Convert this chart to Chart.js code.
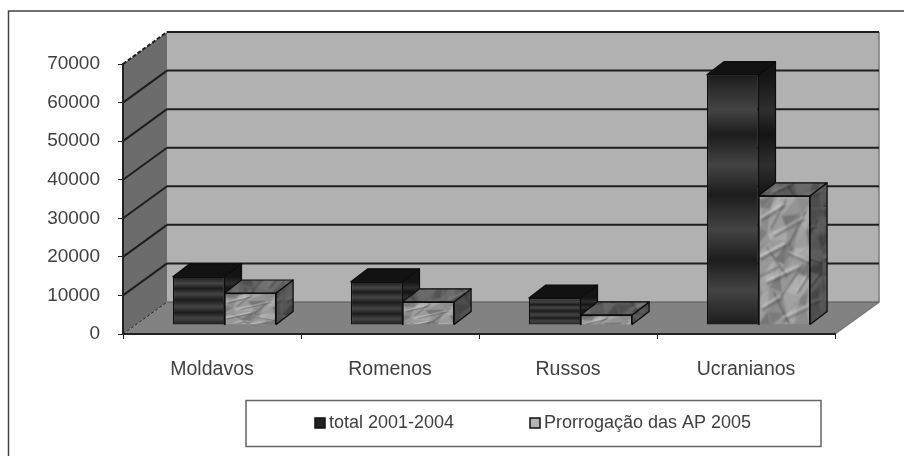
<!DOCTYPE html>
<html>
<head>
<meta charset="utf-8">
<style>
  body { margin: 0; background: #fff; }
  canvas { display: block; }
</style>
<script src="https://cdn.jsdelivr.net/npm/chart.js@4/dist/chart.umd.min.js"></script>
</head>
<body>
<canvas id="chart" width="904" height="456"></canvas>
<script>
// Chart values
const categories = ['Moldavos', 'Romenos', 'Russos', 'Ucranianos'];
const total = [12500, 11200, 7000, 64900];
const prorrogacao = [8300, 6000, 2600, 33500];
const yTicks = [0, 10000, 20000, 30000, 40000, 50000, 60000, 70000];

// Depth of the box around the plot, and of the bars standing inside it
const wallDepth = { x: 44, y: -32 };
const barInset = { x: 12.5, y: -9 };
const barDepth = { x: 17, y: -13 };

// Crumpled paper texture for the second series: shaded facets on a bent grid,
// then a few soft creases, all from fixed numbers
const facetShades = ['#a8a8a8', '#8c8c8c', '#9c9c9c', '#7c7c7c', '#b0b0b0', '#949494', '#a2a2a2', '#767676', '#989898'];
const creases = [
  [6, 40, 58, 14, 3], [34, 70, 104, 40, 2], [4, 112, 60, 88, 4], [70, 104, 116, 120, 2],
  [18, 158, 92, 130, 3], [88, 176, 112, 146, 2], [8, 206, 50, 186, 3], [56, 226, 114, 204, 2]
];
const folds = [
  [64, 8, 30, 60], [110, 30, 70, 92], [20, 96, 66, 150], [104, 128, 54, 186], [36, 180, 70, 236], [4, 150, 48, 132]
];
function paperTexture() {
  const c = document.createElement('canvas');
  c.width = 120;
  c.height = 240;
  const g = c.getContext('2d');
  g.filter = 'blur(2.2px)';
  g.fillStyle = '#9a9a9a';
  g.fillRect(0, 0, 120, 240);
  const step = 30;
  const vx = (i, j) => i * step + 9 * Math.sin(i * 2.1 + j * 1.3);
  const vy = (i, j) => j * step + 9 * Math.cos(i * 1.7 + j * 2.3);
  let n = 0;
  for (let j = -1; j < 9; j++) {
    for (let i = -1; i < 5; i++) {
      [[[i, j], [i + 1, j], [i, j + 1]], [[i + 1, j], [i + 1, j + 1], [i, j + 1]]].forEach(tri => {
        g.fillStyle = facetShades[(n * 5 + j + 9) % facetShades.length];
        n++;
        g.beginPath();
        tri.forEach(([a, b], k) => (k ? g.lineTo(vx(a, b), vy(a, b)) : g.moveTo(vx(a, b), vy(a, b))));
        g.closePath();
        g.fill();
      });
    }
  }
  g.lineCap = 'round';
  folds.forEach(([x1, y1, x2, y2]) => {
    g.strokeStyle = 'rgba(45,45,45,0.5)';
    g.lineWidth = 3;
    g.beginPath(); g.moveTo(x1, y1); g.lineTo(x2, y2); g.stroke();
  });
  creases.forEach(([x1, y1, x2, y2, w]) => {
    g.strokeStyle = 'rgba(50,50,50,0.4)';
    g.lineWidth = w + 2;
    g.beginPath(); g.moveTo(x1 + 3, y1 + 5); g.lineTo(x2 + 3, y2 + 5); g.stroke();
    g.strokeStyle = 'rgba(235,235,235,0.65)';
    g.lineWidth = w;
    g.beginPath(); g.moveTo(x1, y1); g.lineTo(x2, y2); g.stroke();
  });
  return c;
}
const ctx = document.getElementById('chart').getContext('2d');
const paperCanvas = paperTexture();
const paper = ctx.createPattern(paperCanvas, 'repeat');
paper.setTransform(new DOMMatrix([0.45, 0, 0, 0.45, 0, 0]));

function barRect(chart, datasetIndex, index) {
  const el = chart.getDatasetMeta(datasetIndex).data[index];
  return { left: el.x - el.width / 2, right: el.x + el.width / 2, top: el.y, bottom: el.base };
}

function bands(top, bottom, dark, soft) {
  const g = ctx.createLinearGradient(0, top, 0, bottom);
  [0, 0.14, 0.24, 0.36, 0.48, 0.62, 0.74, 0.86, 1].forEach((stop, i) => {
    g.addColorStop(stop, i % 2 ? soft : dark);
  });
  return g;
}

// Front face of the dark bars: soft horizontal bands over the bar's height
function bandFill(context) {
  const y = context.chart.scales.y;
  if (!y || context.dataIndex === undefined) return '#222';
  const top = y.getPixelForValue(total[context.dataIndex]);
  const bottom = y.getPixelForValue(0);
  if (!isFinite(top) || !isFinite(bottom)) return '#222';
  return bands(top, bottom, '#1c1c1c', '#444444');
}

// Front face of the textured bars, the paper stretched to each bar
function paperFill(context) {
  const { x, y } = context.chart.scales;
  if (!y || !x || context.dataIndex === undefined) return '#999';
  const top = y.getPixelForValue(prorrogacao[context.dataIndex]);
  const bottom = y.getPixelForValue(0);
  const left = x.getPixelForValue(context.dataIndex);
  if (!isFinite(top) || !isFinite(bottom) || !isFinite(left)) return '#999';
  const p = ctx.createPattern(paperCanvas, 'repeat');
  const sy = Math.max((bottom - top) / 240, 0.22);
  p.setTransform(new DOMMatrix([0.43, 0, 0, sy, left, top]));
  return p;
}

function face(g, points, fill) {
  g.beginPath();
  points.forEach(([x, y], i) => (i ? g.lineTo(x, y) : g.moveTo(x, y)));
  g.closePath();
  g.fillStyle = fill;
  g.fill();
  g.stroke();
}

const box3d = {
  id: 'box3d',
  // Walls, floor and gridlines of the box
  beforeDraw(chart) {
    const g = chart.ctx;
    const { left, right, top, bottom } = chart.chartArea;
    const dx = wallDepth.x;
    const dy = wallDepth.y;
    g.save();
    g.fillStyle = '#fff';
    g.fillRect(0, 0, chart.width, chart.height);

    // frame lines around the whole figure
    g.strokeStyle = '#444';
    g.lineWidth = 1.5;
    g.beginPath();
    g.moveTo(8.5, 456);
    g.lineTo(8.5, 11);
    g.lineTo(904, 11);
    g.stroke();

    g.fillStyle = '#b1b1b1';
    g.fillRect(left + dx, top + dy, right - left, bottom - top);
    g.fillStyle = '#6c6c6c';
    g.beginPath();
    g.moveTo(left, top);
    g.lineTo(left + dx, top + dy);
    g.lineTo(left + dx, bottom + dy);
    g.lineTo(left, bottom);
    g.closePath();
    g.fill();
    g.fillStyle = '#828282';
    g.beginPath();
    g.moveTo(left, bottom);
    g.lineTo(right, bottom);
    g.lineTo(right + dx, bottom + dy);
    g.lineTo(left + dx, bottom + dy);
    g.closePath();
    g.fill();

    g.strokeStyle = '#7a7a7a';
    g.lineWidth = 1.5;
    g.beginPath();
    g.moveTo(right + dx, top + dy);
    g.lineTo(right + dx, bottom + dy);
    g.lineTo(right, bottom);
    g.stroke();

    // gridlines run up the side wall and across the back
    const yScale = chart.scales.y;
    g.strokeStyle = '#1e1e1e';
    g.lineWidth = 2;
    yTicks.forEach(value => {
      if (value === 0) return;
      const py = yScale.getPixelForValue(value);
      g.setLineDash(value === 70000 ? [4, 2] : []);
      g.beginPath();
      g.moveTo(left, py);
      g.lineTo(left + dx, py + dy);
      g.stroke();
      g.setLineDash([]);
      g.beginPath();
      g.moveTo(left + dx, py + dy);
      g.lineTo(right + dx, py + dy);
      g.stroke();
    });
    g.setLineDash([3, 2]);
    g.lineWidth = 1;
    g.beginPath();
    g.moveTo(left, bottom);
    g.lineTo(left + dx, bottom + dy);
    g.stroke();
    g.setLineDash([]);
    g.strokeStyle = '#555';
    g.beginPath();
    g.moveTo(left + dx, bottom + dy);
    g.lineTo(right + dx, bottom + dy);
    g.stroke();
    g.restore();
  },
  // Top and side faces go behind the library's front faces
  beforeDatasetsDraw(chart) {
    const g = chart.ctx;
    g.save();
    g.translate(barInset.x, barInset.y);
    g.save();
    g.strokeStyle = '#0d0d0d';
    g.lineWidth = 1.2;
    g.lineJoin = 'round';
    const dx = barDepth.x;
    const dy = barDepth.y;
    chart.data.datasets.forEach((ds, d) => {
      ds.data.forEach((_, i) => {
        const r = barRect(chart, d, i);
        const side = [[r.right, r.top], [r.right + dx, r.top + dy], [r.right + dx, r.bottom + dy], [r.right, r.bottom]];
        const cap = [[r.left, r.top], [r.left + dx, r.top + dy], [r.right + dx, r.top + dy], [r.right, r.top]];
        if (d === 0) {
          face(g, side, bands(r.top, r.bottom, '#141414', '#2e2e2e'));
          face(g, cap, '#121212');
        } else {
          face(g, side, paper);
          g.fillStyle = 'rgba(0,0,0,0.45)';
          g.fill();
          face(g, cap, paper);
          g.fillStyle = 'rgba(0,0,0,0.35)';
          g.fill();
        }
      });
    });
    g.restore();
  },
  afterDatasetsDraw(chart) {
    chart.ctx.restore();
  },
  // Legend box below the plot, labels taken from the datasets
  afterDraw(chart) {
    const g = chart.ctx;
    g.save();
    g.strokeStyle = '#666';
    g.lineWidth = 1.5;
    g.strokeRect(246, 400.5, 575, 46);
    g.font = '18px "Liberation Sans"';
    g.textBaseline = 'middle';
    const items = [{ x: 315, fill: '#222' }, { x: 530, fill: '#b5b5b5' }];
    items.forEach((item, i) => {
      g.fillStyle = item.fill;
      g.strokeStyle = '#111';
      g.lineWidth = 1.5;
      g.fillRect(item.x, 418, 10, 10);
      g.strokeRect(item.x, 418, 10, 10);
      g.fillStyle = '#404040';
      g.fillText(chart.data.datasets[i].label, item.x + 14, 423);
    });
    g.restore();
  }
};

new Chart(ctx, {
  type: 'bar',
  data: {
    labels: categories,
    datasets: [
      { label: 'total 2001-2004', data: total, backgroundColor: bandFill },
      { label: 'Prorrogação das AP 2005', data: prorrogacao, backgroundColor: paperFill }
    ]
  },
  options: {
    responsive: false,
    animation: false,
    layout: { padding: { top: 64, right: 69, left: 0, bottom: 0 } },
    datasets: { bar: { categoryPercentage: 0.58, barPercentage: 1, borderColor: '#0d0d0d', borderWidth: 1.2 } },
    plugins: { legend: { display: false }, tooltip: { enabled: false } },
    scales: {
      x: {
        afterFit(scale) { scale.height = 122; },
        grid: { drawOnChartArea: false, tickLength: 5, color: '#222', offset: true },
        border: { color: '#222', width: 2 },
        ticks: { color: '#404040', padding: 19, font: { family: '"Liberation Sans"', size: 19.5 }, maxRotation: 0 }
      },
      y: {
        min: 0,
        max: 70000,
        afterFit(scale) { scale.width = 123; },
        afterBuildTicks(scale) { scale.ticks = yTicks.map(value => ({ value })); },
        grid: { drawOnChartArea: false, tickLength: 5, color: '#222' },
        border: { color: '#222', width: 2 },
        ticks: {
          color: '#404040',
          padding: 18,
          font: { family: '"Liberation Sans"', size: 19 },
          callback: value => String(value)
        }
      }
    }
  },
  plugins: [box3d]
});
</script>
</body>
</html>
